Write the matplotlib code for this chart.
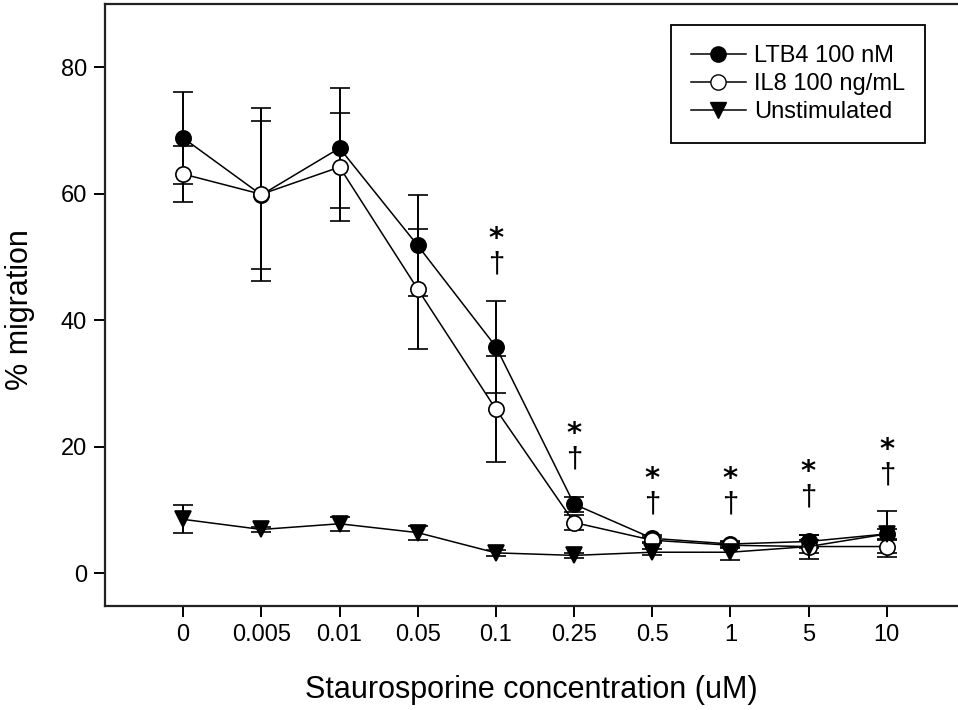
import matplotlib
matplotlib.use('Agg')
import matplotlib.pyplot as plt
from matplotlib.lines import Line2D

plt.rcParams['font.family'] = ['Liberation Sans', 'DejaVu Sans']

# Staurosporine concentrations (uM), plotted at evenly spaced positions
concentrations = ['0', '0.005', '0.01', '0.05', '0.1', '0.25', '0.5', '1', '5', '10']

ltb4 = [68.8, 59.8, 67.2, 51.8, 35.8, 10.9, 5.5, 4.6, 5.0, 6.2]
ltb4_err = [7.2, 11.7, 9.5, 8.0, 7.3, 1.2, 0.6, 0.5, 1.0, 3.6]

il8 = [63.1, 59.9, 64.2, 44.9, 25.9, 8.0, 5.2, 4.4, 4.2, 4.2]
il8_err = [4.5, 13.7, 8.5, 9.5, 8.4, 1.2, 0.5, 0.5, 1.9, 1.1]

unstim = [8.5, 6.9, 7.8, 6.4, 3.2, 2.8, 3.3, 3.3, 4.2, 6.2]
unstim_err = [2.2, 0.4, 1.1, 1.1, 0.5, 0.4, 0.5, 1.2, 1.0, 0.8]

# significance marks ('*' over a dagger): index and height of the pair's middle
sig_idx = [4, 5, 6, 7, 8, 9]
sig_y = [51.5, 20.6, 13.5, 13.5, 14.6, 18.1]

x = list(range(len(concentrations)))

fig = plt.figure(figsize=(9.58, 7.10), dpi=100)
ax = fig.add_axes([0.1096, 0.1465, 0.8904, 0.848])

common = dict(color='black', lw=1.1, capsize=7, elinewidth=1.4, capthick=1.4,
              markersize=11, markeredgewidth=1.2, markeredgecolor='black')
ax.errorbar(x, ltb4, yerr=ltb4_err, fmt='-o', markerfacecolor='black', **common)
ax.errorbar(x, il8, yerr=il8_err, fmt='-o', markerfacecolor='white', **common)
ax.errorbar(x, unstim, yerr=unstim_err, fmt='-v', markerfacecolor='black',
            **dict(common, markersize=12))

for i, sy in zip(sig_idx, sig_y):
    ax.text(i, sy - 0.5, '$\\mathbf{*}$\n\u2020', ha='center', va='center',
            fontsize=21, linespacing=1.0, multialignment='center')

ax.set_xlim(-1.0, 9.91)
ax.set_ylim(-5.2, 90)
ax.set_xticks(x)
ax.set_xticklabels(concentrations)
ax.set_yticks([0, 20, 40, 60, 80])
ax.tick_params(direction='out', length=8, width=1.4, labelsize=17, pad=5)

for side in ['left', 'bottom', 'top']:
    ax.spines[side].set_linewidth(1.6)
    ax.spines[side].set_color('#222222')
ax.spines['right'].set_visible(False)

ax.set_xlabel('Staurosporine concentration (uM)', fontsize=22, labelpad=21)
fig.text(20 / 958, 1 - 310 / 710, '% migration', rotation=90,
         ha='center', va='center', fontsize=22)

handles = [
    Line2D([], [], color='black', lw=1.1, marker='o', markersize=11,
           markerfacecolor='black', markeredgecolor='black'),
    Line2D([], [], color='black', lw=1.1, marker='o', markersize=11,
           markerfacecolor='white', markeredgecolor='black'),
    Line2D([], [], color='black', lw=1.1, marker='v', markersize=12,
           markerfacecolor='black', markeredgecolor='black'),
]
labels = ['LTB4 100 nM', 'IL8 100 ng/mL', 'Unstimulated']
leg = ax.legend(handles, labels, loc='upper right',
                bbox_to_anchor=(925 / 958, 1 - 25 / 710),
                bbox_transform=fig.transFigure, fontsize=17, frameon=True,
                fancybox=False, edgecolor='black', framealpha=1,
                handlelength=2.3, handletextpad=0.35, labelspacing=0.25,
                borderpad=0.85, borderaxespad=0)
leg.get_frame().set_linewidth(1.3)

fig.savefig('out.png', dpi=100)
